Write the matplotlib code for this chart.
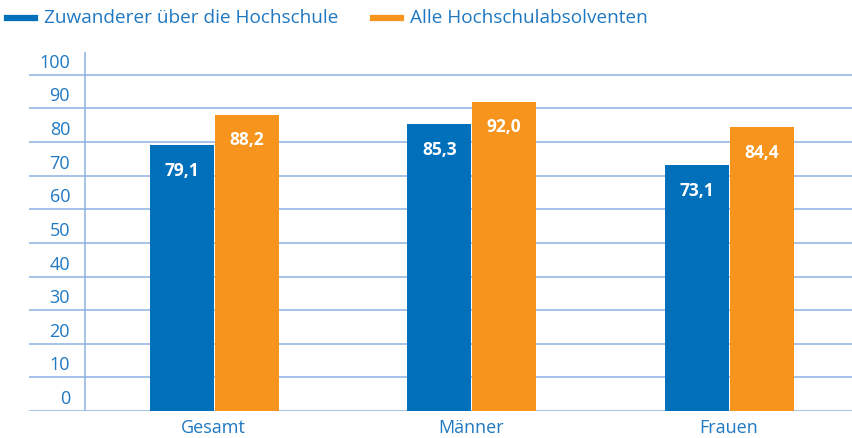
import matplotlib
matplotlib.use("Agg")
import matplotlib.pyplot as plt
from matplotlib.lines import Line2D
import numpy as np

plt.rcParams['font.family'] = ['Open Sans', 'DejaVu Sans']

# data
categories = ["Gesamt", "Männer", "Frauen"]
zuwanderer = [79.1, 85.3, 73.1]
alle = [88.2, 92.0, 84.4]
series_names = ["Zuwanderer über die Hochschule", "Alle Hochschulabsolventen"]
yticks = list(range(0, 101, 10))

blue = "#0070ba"
orange = "#f7941d"
grid_col = "#8db3e2"
text_col = "#1f78c1"

W, H = 853, 438
fig = plt.figure(figsize=(W / 100, H / 100), dpi=100)
ax = fig.add_axes([29 / W, 27 / H, 824 / W, (411 - 52) / H])

x = np.arange(len(categories))
bw = 0.248
ax.set_xlim(-0.7165, 2.4816)
ax.set_ylim(0, 106.8)

for v in yticks:
    ax.axhline(v, color=grid_col, lw=1.1, zorder=0)
    ax.text(-0.557, v + 0.9, str(v), ha='right', va='bottom', fontsize=13, color=text_col)
ax.axvline(-0.5, color=grid_col, lw=1.1, zorder=0)

b1 = ax.bar(x - bw / 2, zuwanderer, bw, color=blue, zorder=2)
b2 = ax.bar(x + bw / 2 + 0.004, alle, bw, color=orange, zorder=2)

def fmt(v):
    return f"{v:.1f}".replace(".", ",")

for bars, vals in ((b1, zuwanderer), (b2, alle)):
    for r, v in zip(bars, vals):
        ax.text(r.get_x() + r.get_width() / 2, v - 7.6, fmt(v), ha='center', va='center',
                color='white', fontsize=12.5, fontweight='bold', zorder=3)

for s in ax.spines.values():
    s.set_visible(False)
ax.set_yticks([])
ax.set_xticks(x)
ax.set_xticklabels(categories, fontsize=13, color=text_col)
ax.tick_params(axis='x', length=0, pad=6)

# legend drawn by hand along the top
ly = 1 - 18 / H
fig.add_artist(Line2D([7 / W, 35 / W], [ly, ly], color=blue, lw=4.5))
fig.text(44 / W, ly, series_names[0], ha='left', va='center', fontsize=13.7, color=text_col)
fig.add_artist(Line2D([373 / W, 401 / W], [ly, ly], color=orange, lw=4.5))
fig.text(410 / W, ly, series_names[1], ha='left', va='center', fontsize=13.7, color=text_col)

fig.savefig("out.png", dpi=100)
